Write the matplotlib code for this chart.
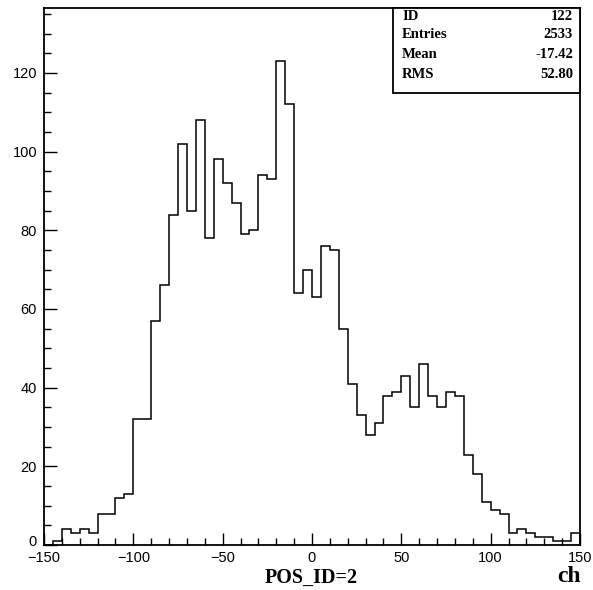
import matplotlib
matplotlib.use("Agg")
import matplotlib.pyplot as plt
from matplotlib.ticker import MultipleLocator, FuncFormatter
from matplotlib.patches import Rectangle
import numpy as np

# Histogram: 60 bins of width 5 from -150 to 150
bin_edges = list(range(-150, 151, 5))
counts = [0, 1, 4, 3, 4, 3, 8, 8, 12, 13,
          32, 32, 57, 66, 84, 102, 85, 108, 78, 98,
          92, 87, 79, 80, 94, 93, 123, 112, 64, 70,
          63, 76, 75, 55, 41, 33, 28, 31, 38, 39,
          43, 35, 46, 38, 35, 39, 38, 23, 18, 11,
          9, 8, 3, 4, 3, 2, 2, 1, 1, 3]

stat_labels = ["ID", "Entries", "Mean", "RMS"]
stat_values = ["122", "2533", "-17.42", "52.80"]
x_title = "POS_ID=2"
x_unit = "ch"

fig = plt.figure(figsize=(5.93, 5.90), dpi=100)
ax = fig.add_axes([44/593, 45/590, 536/593, 537/590])

ax.stairs(counts, bin_edges, color="black", linewidth=1.1)
ax.set_xlim(-150, 150)
ax.set_ylim(0, 136.5)

for s in ax.spines.values():
    s.set_linewidth(1.3)

ax.xaxis.set_major_locator(MultipleLocator(50))
ax.xaxis.set_minor_locator(MultipleLocator(10))
ax.yaxis.set_major_locator(MultipleLocator(20))
ax.yaxis.set_minor_locator(MultipleLocator(5))
# the "0" y label is drawn separately, nudged up so it clears "−150"
ax.yaxis.set_major_formatter(FuncFormatter(lambda v, p: "" if v == 0 else f"{v:g}"))
ax.tick_params(axis="both", which="major", direction="in", length=9, width=1.0,
               labelsize=10.5, top=False, right=False)
ax.tick_params(axis="both", which="minor", direction="in", length=5, width=1.0,
               top=False, right=False)
ax.tick_params(axis="x", pad=4)
ax.tick_params(axis="y", pad=5)
for lab in ax.get_xticklabels() + ax.get_yticklabels():
    lab.set_fontfamily("Liberation Sans")
ax.annotate("0", xy=(0, 0), xycoords=("axes fraction", "data"),
            xytext=(-5.5, 2.5), textcoords="offset points", ha="right",
            va="center", fontsize=10.5, fontfamily="Liberation Sans")

# x titles
fig.text(311/593, 1 - 578/590, x_title, ha="center", va="center",
         fontfamily="Liberation Serif", fontweight="bold", fontsize=14.5)
fig.text(581/593, 1 - 577/590, x_unit, ha="right", va="center",
         fontfamily="Liberation Serif", fontweight="bold", fontsize=17)

# stats box
bx0 = (393 - 44) / 536
by0 = (545 - 93) / 537
ax.add_patch(Rectangle((bx0, by0), 1 - bx0, 1 - by0, transform=ax.transAxes,
                       facecolor="white", edgecolor="black", linewidth=1.3,
                       zorder=5, clip_on=False))
row_y = [16, 35, 55, 75]
for lab, val, yy in zip(stat_labels, stat_values, row_y):
    yf = (545 - yy) / 537
    ax.text((402 - 44) / 536, yf, lab, transform=ax.transAxes, ha="left",
            va="center", fontfamily="Liberation Serif", fontweight="bold",
            fontsize=10.5, zorder=6)
    ax.text((573 - 44) / 536, yf, val, transform=ax.transAxes, ha="right",
            va="center", fontfamily="Liberation Serif", fontweight="bold",
            fontsize=10.5, zorder=6)

fig.savefig("out.png", dpi=100)
